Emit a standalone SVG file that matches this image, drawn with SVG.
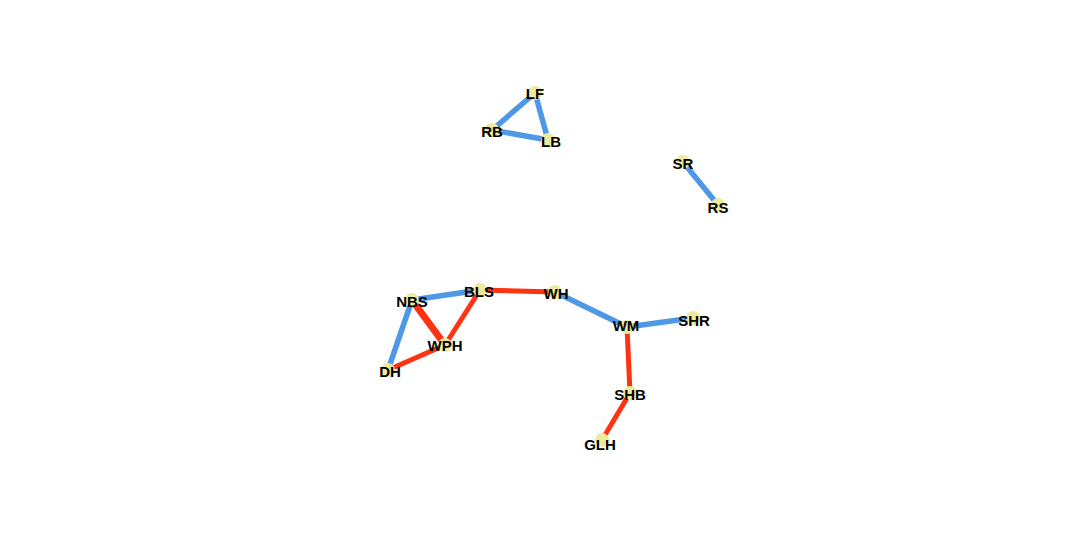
<svg xmlns="http://www.w3.org/2000/svg" width="1071" height="556" viewBox="0 0 1071 556">
<style>
.b{stroke:#4f98e6;stroke-width:5.5;fill:none}
.r{stroke:#ff3311;stroke-width:5;fill:none}
.n circle{fill:#eeea9c}
.n text{font-family:"Liberation Sans",Arial,sans-serif;font-weight:bold;font-size:15px;fill:#000;text-anchor:middle;dominant-baseline:central}
</style>
<rect width="1071" height="556" fill="#fff"/>
<g id="edges">
<line class="b" x1="535" y1="93" x2="492" y2="130"/>
<line class="b" x1="535" y1="93" x2="548" y2="140"/>
<line class="b" x1="492" y1="130" x2="548" y2="140"/>
<line class="b" x1="683" y1="162" x2="718" y2="205"/>
<line class="b" x1="412" y1="300" x2="480" y2="290"/>
<line class="b" x1="412" y1="300" x2="388" y2="370"/>
<line class="r" x1="412" y1="300" x2="445" y2="345" style="stroke-width:7"/>
<line class="r" x1="480" y1="290" x2="445" y2="345"/>
<line class="r" x1="388" y1="370" x2="445" y2="345"/>
<line class="r" x1="480" y1="290" x2="555" y2="292"/>
<line class="b" x1="555" y1="292" x2="627" y2="327"/>
<line class="b" x1="627" y1="327" x2="693" y2="318"/>
<line class="r" x1="627" y1="327" x2="630" y2="393"/>
<line class="r" x1="630" y1="393" x2="602" y2="440"/>
</g>
<g id="LF" class="n"><circle cx="535" cy="93" r="7"/><text x="535" y="93">LF</text></g>
<g id="RB" class="n"><circle cx="492" cy="130" r="7"/><text x="492" y="131">RB</text></g>
<g id="LB" class="n"><circle cx="548" cy="140" r="7"/><text x="551" y="141">LB</text></g>
<g id="SR" class="n"><circle cx="683" cy="162" r="7"/><text x="683" y="163">SR</text></g>
<g id="RS" class="n"><circle cx="718" cy="205" r="7"/><text x="718" y="207">RS</text></g>
<g id="NBS" class="n"><circle cx="412" cy="300" r="7"/><text x="412" y="301">NBS</text></g>
<g id="BLS" class="n"><circle cx="480" cy="290" r="7"/><text x="479" y="291">BLS</text></g>
<g id="WPH" class="n"><circle cx="445" cy="345" r="7"/><text x="445" y="345">WPH</text></g>
<g id="DH" class="n"><circle cx="388" cy="370" r="7"/><text x="390" y="371">DH</text></g>
<g id="WH" class="n"><circle cx="555" cy="292" r="7"/><text x="556" y="293">WH</text></g>
<g id="WM" class="n"><circle cx="627" cy="327" r="7"/><text x="626" y="325">WM</text></g>
<g id="SHR" class="n"><circle cx="693" cy="318" r="7"/><text x="694" y="320">SHR</text></g>
<g id="SHB" class="n"><circle cx="630" cy="393" r="7"/><text x="630" y="394">SHB</text></g>
<g id="GLH" class="n"><circle cx="602" cy="440" r="7"/><text x="600" y="444">GLH</text></g>
</svg>
